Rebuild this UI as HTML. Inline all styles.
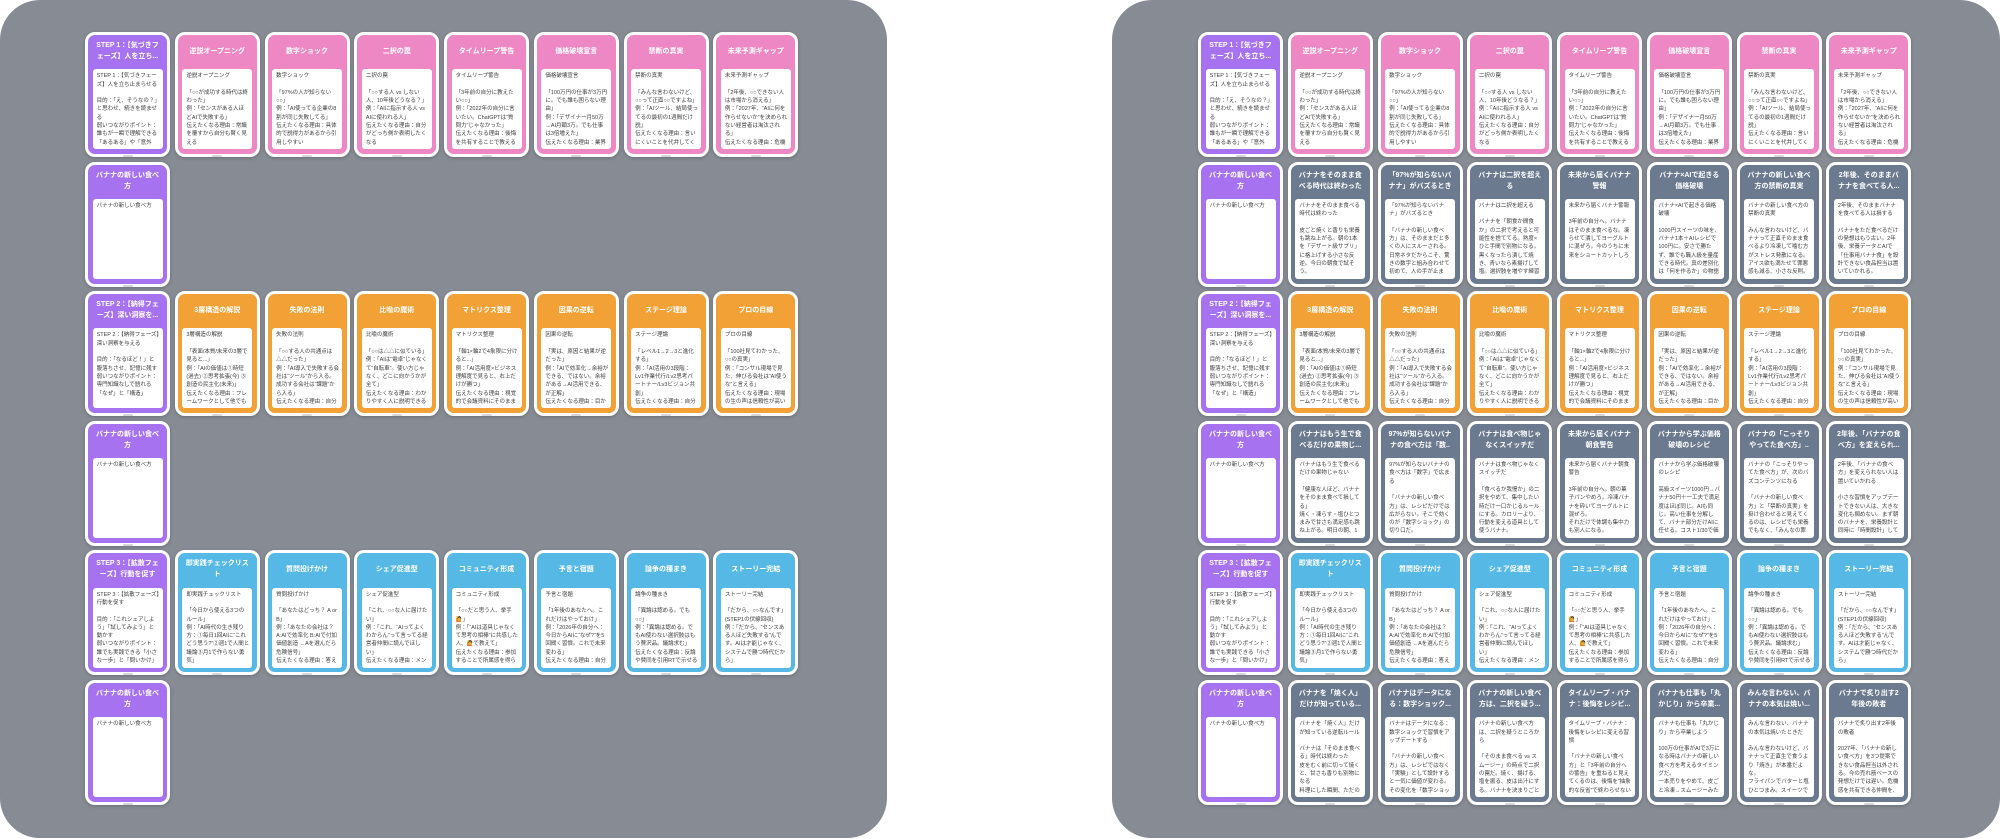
<!DOCTYPE html>
<html><head><meta charset="utf-8">
<style>
html,body{margin:0;padding:0;width:2000px;height:839px;overflow:hidden;background:#fff;}
body{position:relative;font-family:"Liberation Sans","Noto Sans CJK JP",sans-serif;}
.pn{position:absolute;top:0;height:838px;background:#868b94;border-radius:40px;overflow:hidden;}
.g{position:absolute;top:0;left:0;}
.c{position:absolute;width:85px;height:125px;box-sizing:border-box;border:3px solid #fff;border-radius:10px;box-shadow:0 1px 3px rgba(0,0,0,.22);}
.p{background:#a772ef}.k{background:#ed88c5}.o{background:#f1a135}.u{background:#56b8e4}.s{background:#6b7a8f}
.t{position:absolute;left:0;top:0;width:79px;height:32px;display:flex;align-items:center;justify-content:center;text-align:center;color:#fff;font-weight:bold;font-size:7px;line-height:11px;white-space:nowrap;overflow:hidden;}
.b{position:absolute;left:4.6px;top:34.3px;width:70px;height:80px;background:#fff;border-radius:3px;box-sizing:border-box;padding:3px 3px 0 4px;}
.b div{height:74.7px;overflow:hidden;font-size:5.5px;line-height:8.3px;color:#3c3c3c;white-space:pre-wrap;overflow-wrap:anywhere;}
.c i{position:absolute;left:34.5px;bottom:-3px;width:10px;height:2px;background:#d4d6d9;border-radius:1px;}
</style></head><body>

<div class="pn" style="left:0;width:887px">
<div class="g">
<!-- row 0 -->
<div class="c p" style="left:85px;top:32px"><div class="t">STEP 1：【気づきフ<br>ェーズ】人を立ち...</div><div class="b"><div>STEP 1：【気づきフェーズ】人を立ち止まらせる

目的：「え、そうなの？」と思わせ、続きを読ませる
弱いつながりポイント：誰もが一瞬で理解できる「あるある」や「意外性」</div></div><i></i></div>
<div class="c k" style="left:174.75px;top:32px"><div class="t">逆説オープニング</div><div class="b"><div>逆説オープニング

「○○が成功する時代は終わった」
例：「センスがある人ほどAIで失敗する」
伝えたくなる理由：常識を覆すから自分も賢く見える</div></div><i></i></div>
<div class="c k" style="left:264.5px;top:32px"><div class="t">数字ショック</div><div class="b"><div>数字ショック

「97%の人が知らない○○」
例：「AI使ってる企業の8割が同じ失敗してる」
伝えたくなる理由：具体的で説得力があるから引用しやすい</div></div><i></i></div>
<div class="c k" style="left:354.25px;top:32px"><div class="t">二択の罠</div><div class="b"><div>二択の罠

「○○する人 vs しない人、10年後どうなる？」
例：「AIに指示する人 vs AIに使われる人」
伝えたくなる理由：自分がどっち側か表明したくなる</div></div><i></i></div>
<div class="c k" style="left:444px;top:32px"><div class="t">タイムリープ警告</div><div class="b"><div>タイムリープ警告

「3年前の自分に教えたい○○」
例：「2022年の自分に言いたい。ChatGPTは“質問力”じゃなかった」
伝えたくなる理由：後悔を共有することで教える側に立てる</div></div><i></i></div>
<div class="c k" style="left:533.75px;top:32px"><div class="t">価格破壊宣言</div><div class="b"><div>価格破壊宣言

「100万円の仕事が3万円に。でも誰も困らない理由」
例：「デザイナー月50万→AI月額3万。でも仕事は3倍増えた」
伝えたくなる理由：業界の変化を先取りできる</div></div><i></i></div>
<div class="c k" style="left:623.5px;top:32px"><div class="t">禁断の真実</div><div class="b"><div>禁断の真実

「みんな言わないけど、○○って正直○○ですよね」
例：「AIツール、結局使ってるの最初の1週間だけ説」
伝えたくなる理由：言いにくいことを代弁してくれる</div></div><i></i></div>
<div class="c k" style="left:713.25px;top:32px"><div class="t">未来予測ギャップ</div><div class="b"><div>未来予測ギャップ

「2年後、○○できない人は市場から消える」
例：「2027年、“AIに何を作らせないか”を決められない経営者は淘汰される」
伝えたくなる理由：危機感を共有したくなる</div></div><i></i></div>
<!-- row 1 -->
<div class="c p" style="left:85px;top:161.6px"><div class="t">バナナの新しい食べ<br>方</div><div class="b"><div>バナナの新しい食べ方</div></div><i></i></div>
<!-- row 2 -->
<div class="c p" style="left:85px;top:291.2px"><div class="t">STEP 2：【納得フェ<br>ーズ】深い洞察を...</div><div class="b"><div>STEP 2：【納得フェーズ】深い洞察を与える

目的：「なるほど！」と腹落ちさせ、記憶に残す
弱いつながりポイント：専門知識なしで語れる「なぜ」と「構造」</div></div><i></i></div>
<div class="c o" style="left:174.75px;top:291.2px"><div class="t">3層構造の解説</div><div class="b"><div>3層構造の解説

「表面/本質/未来の3層で見ると...」
例：「AIの価値は①時短(過去) ②思考拡張(今) ③創造の民主化(未来)」
伝えたくなる理由：フレームワークとして他でも使える</div></div><i></i></div>
<div class="c o" style="left:264.5px;top:291.2px"><div class="t">失敗の法則</div><div class="b"><div>失敗の法則

「○○する人の共通点は△△だった」
例：「AI導入で失敗する会社は“ツール”から入る。成功する会社は“課題”から入る」
伝えたくなる理由：自分は大丈夫か確かめたくなる</div></div><i></i></div>
<div class="c o" style="left:354.25px;top:291.2px"><div class="t">比喩の魔術</div><div class="b"><div>比喩の魔術

「○○は△△に似ている」
例：「AIは“電卓”じゃなくて“自転車”。使い方じゃなく、どこに向かうかが全て」
伝えたくなる理由：わかりやすく人に説明できる</div></div><i></i></div>
<div class="c o" style="left:444px;top:291.2px"><div class="t">マトリクス整理</div><div class="b"><div>マトリクス整理

「軸1×軸2で4象限に分けると...」
例：「AI活用度×ビジネス理解度で見ると、右上だけが勝つ」
伝えたくなる理由：視覚的で会議資料にそのまま使える</div></div><i></i></div>
<div class="c o" style="left:533.75px;top:291.2px"><div class="t">因果の逆転</div><div class="b"><div>因果の逆転

「実は、原因と結果が逆だった」
例：「AIで効率化→余裕ができる、ではない。余裕がある→AI活用できる、が正解」
伝えたくなる理由：目からウロコの発見</div></div><i></i></div>
<div class="c o" style="left:623.5px;top:291.2px"><div class="t">ステージ理論</div><div class="b"><div>ステージ理論

「レベル1→2→3と進化する」
例：「AI活用の3段階：Lv1作業代行/Lv2思考パートナー/Lv3ビジョン共創」
伝えたくなる理由：自分の現在地がわかる</div></div><i></i></div>
<div class="c o" style="left:713.25px;top:291.2px"><div class="t">プロの目線</div><div class="b"><div>プロの目線

「100社見てわかった、○○の真実」
例：「コンサル現場で見た、伸びる会社は“AI使うな”と言える」
伝えたくなる理由：現場の生の声は信頼性が高い</div></div><i></i></div>
<!-- row 3 -->
<div class="c p" style="left:85px;top:420.8px"><div class="t">バナナの新しい食べ<br>方</div><div class="b"><div>バナナの新しい食べ方</div></div><i></i></div>
<!-- row 4 -->
<div class="c p" style="left:85px;top:550.4px"><div class="t">STEP 3：【拡散フェ<br>ーズ】行動を促す</div><div class="b"><div>STEP 3：【拡散フェーズ】行動を促す

目的：「これシェアしよう」「試してみよう」と動かす
弱いつながりポイント：誰でも実践できる「小さな一歩」と「問いかけ」</div></div><i></i></div>
<div class="c u" style="left:174.75px;top:550.4px"><div class="t">即実践チェックリス<br>ト</div><div class="b"><div>即実践チェックリスト

「今日から使える3つのルール」
例：「AI時代の生き残り方：①毎日1回AIに“これどう思う?”②週1で人間と議論③月1で作らない勇気」</div></div><i></i></div>
<div class="c u" style="left:264.5px;top:550.4px"><div class="t">質問投げかけ</div><div class="b"><div>質問投げかけ

「あなたはどっち？ A or B」
例：「あなたの会社は？ A:AIで効率化 B:AIで付加価値創造 ←Aを選んだら危険信号」
伝えたくなる理由：答えたくなる</div></div><i></i></div>
<div class="c u" style="left:354.25px;top:550.4px"><div class="t">シェア促進型</div><div class="b"><div>シェア促進型

「これ、○○な人に届けたい」
例：「これ、“AIってよくわからん”って言ってる経営者仲間に読んでほしい」
伝えたくなる理由：メンションしたくなる</div></div><i></i></div>
<div class="c u" style="left:444px;top:550.4px"><div class="t">コミュニティ形成</div><div class="b"><div>コミュニティ形成

「○○だと思う人、挙手🙋」
例：「“AIは道具じゃなくて思考の相棒”に共感した人、🙋で教えて」
伝えたくなる理由：参加することで所属感を得られる</div></div><i></i></div>
<div class="c u" style="left:533.75px;top:550.4px"><div class="t">予言と宿題</div><div class="b"><div>予言と宿題

「1年後のあなたへ。これだけはやっておけ」
例：「2026年の自分へ：今日からAIに“なぜ?”を5回聞く習慣。これで未来変わる」
伝えたくなる理由：自分ごとになる</div></div><i></i></div>
<div class="c u" style="left:623.5px;top:550.4px"><div class="t">論争の種まき</div><div class="b"><div>論争の種まき

「異論は認める。でも○○」
例：「異論は認める。でもAI使わない選択肢はもう贅沢品。議論求む」
伝えたくなる理由：反論や賛同を引用RTで示せる</div></div><i></i></div>
<div class="c u" style="left:713.25px;top:550.4px"><div class="t">ストーリー完結</div><div class="b"><div>ストーリー完結

「だから、○○なんです」(STEP1の伏線回収)
例：「だから、“センスある人ほど失敗する”んです。AIは才能じゃなく、システムで勝つ時代だから」</div></div><i></i></div>
<!-- row 5 -->
<div class="c p" style="left:85px;top:680px"><div class="t">バナナの新しい食べ<br>方</div><div class="b"><div>バナナの新しい食べ方</div></div><i></i></div>
</div>
</div>

<div class="pn" style="left:1112px;width:888px">
<div class="g" style="left:1px">
<!-- row 0 -->
<div class="c p" style="left:85px;top:32px"><div class="t">STEP 1：【気づきフ<br>ェーズ】人を立ち...</div><div class="b"><div>STEP 1：【気づきフェーズ】人を立ち止まらせる

目的：「え、そうなの？」と思わせ、続きを読ませる
弱いつながりポイント：誰もが一瞬で理解できる「あるある」や「意外性」</div></div><i></i></div>
<div class="c k" style="left:174.75px;top:32px"><div class="t">逆説オープニング</div><div class="b"><div>逆説オープニング

「○○が成功する時代は終わった」
例：「センスがある人ほどAIで失敗する」
伝えたくなる理由：常識を覆すから自分も賢く見える</div></div><i></i></div>
<div class="c k" style="left:264.5px;top:32px"><div class="t">数字ショック</div><div class="b"><div>数字ショック

「97%の人が知らない○○」
例：「AI使ってる企業の8割が同じ失敗してる」
伝えたくなる理由：具体的で説得力があるから引用しやすい</div></div><i></i></div>
<div class="c k" style="left:354.25px;top:32px"><div class="t">二択の罠</div><div class="b"><div>二択の罠

「○○する人 vs しない人、10年後どうなる？」
例：「AIに指示する人 vs AIに使われる人」
伝えたくなる理由：自分がどっち側か表明したくなる</div></div><i></i></div>
<div class="c k" style="left:444px;top:32px"><div class="t">タイムリープ警告</div><div class="b"><div>タイムリープ警告

「3年前の自分に教えたい○○」
例：「2022年の自分に言いたい。ChatGPTは“質問力”じゃなかった」
伝えたくなる理由：後悔を共有することで教える側に立てる</div></div><i></i></div>
<div class="c k" style="left:533.75px;top:32px"><div class="t">価格破壊宣言</div><div class="b"><div>価格破壊宣言

「100万円の仕事が3万円に。でも誰も困らない理由」
例：「デザイナー月50万→AI月額3万。でも仕事は3倍増えた」
伝えたくなる理由：業界の変化を先取りできる</div></div><i></i></div>
<div class="c k" style="left:623.5px;top:32px"><div class="t">禁断の真実</div><div class="b"><div>禁断の真実

「みんな言わないけど、○○って正直○○ですよね」
例：「AIツール、結局使ってるの最初の1週間だけ説」
伝えたくなる理由：言いにくいことを代弁してくれる</div></div><i></i></div>
<div class="c k" style="left:713.25px;top:32px"><div class="t">未来予測ギャップ</div><div class="b"><div>未来予測ギャップ

「2年後、○○できない人は市場から消える」
例：「2027年、“AIに何を作らせないか”を決められない経営者は淘汰される」
伝えたくなる理由：危機感を共有したくなる</div></div><i></i></div>
<!-- row 1 -->
<div class="c p" style="left:85px;top:161.6px"><div class="t">バナナの新しい食べ<br>方</div><div class="b"><div>バナナの新しい食べ方</div></div><i></i></div>
<div class="c s" style="left:174.75px;top:161.6px"><div class="t">バナナをそのまま食<br>べる時代は終わった</div><div class="b"><div>バナナをそのまま食べる時代は終わった

皮ごと焼くと香りも栄養も跳ね上がる。朝の1本を「デザート級サプリ」に格上げする小さな反逆。今日の朝食で試そう。</div></div><i></i></div>
<div class="c s" style="left:264.5px;top:161.6px"><div class="t">「97%が知らないバ<br>ナナ」がバズるとき</div><div class="b"><div>「97%が知らないバナナ」がバズるとき

「バナナの新しい食べ方」は、そのままだと多くの人にスルーされる。日常ネタだからこそ、驚きの数字と組み合わせて初めて、人の手が止まり、シェアが生まれる。</div></div><i></i></div>
<div class="c s" style="left:354.25px;top:161.6px"><div class="t">バナナは二択を超え<br>る</div><div class="b"><div>バナナは二択を超える

バナナを「朝食か間食か」の二択で考えると可能性を捨ててる。熟度×ひと手間で別物になる。黒くなったら潰して焼き、青いなら素揚げして塩。選択肢を増やす練習だ。</div></div><i></i></div>
<div class="c s" style="left:444px;top:161.6px"><div class="t">未来から届くバナナ<br>警報</div><div class="b"><div>未来から届くバナナ警報

3年前の自分へ。バナナはそのまま食べるな。凍らせて潰してヨーグルトに混ぜろ。今のうちに未来をショートカットしろ</div></div><i></i></div>
<div class="c s" style="left:533.75px;top:161.6px"><div class="t">バナナ×AIで起きる<br>価格破壊</div><div class="b"><div>バナナ×AIで起きる価格破壊

1000円スイーツの味を、バナナ1本＋AIレシピで100円に。安さで勝たず、誰でも職人級を量産できる時代。真の差別化は「何を作るか」の物語だ。</div></div><i></i></div>
<div class="c s" style="left:623.5px;top:161.6px"><div class="t">バナナの新しい食べ<br>方の禁断の真実</div><div class="b"><div>バナナの新しい食べ方の禁断の真実

みんな言わないけど、バナナって正直そのまま食べるより冷凍して噛む方がストレス発散になる。アイス欲も満たせて罪悪感も減る、小さな反則。</div></div><i></i></div>
<div class="c s" style="left:713.25px;top:161.6px"><div class="t">2年後、そのままバ<br>ナナを食べてる人...</div><div class="b"><div>2年後、そのままバナナを食べてる人は損する

バナナをただ食べるだけの発想はもう古い。2年後、栄養データとAIで「仕事用バナナ食」を設計できない食品担当は置いていかれる。</div></div><i></i></div>
<!-- row 2 -->
<div class="c p" style="left:85px;top:291.2px"><div class="t">STEP 2：【納得フェ<br>ーズ】深い洞察を...</div><div class="b"><div>STEP 2：【納得フェーズ】深い洞察を与える

目的：「なるほど！」と腹落ちさせ、記憶に残す
弱いつながりポイント：専門知識なしで語れる「なぜ」と「構造」</div></div><i></i></div>
<div class="c o" style="left:174.75px;top:291.2px"><div class="t">3層構造の解説</div><div class="b"><div>3層構造の解説

「表面/本質/未来の3層で見ると...」
例：「AIの価値は①時短(過去) ②思考拡張(今) ③創造の民主化(未来)」
伝えたくなる理由：フレームワークとして他でも使える</div></div><i></i></div>
<div class="c o" style="left:264.5px;top:291.2px"><div class="t">失敗の法則</div><div class="b"><div>失敗の法則

「○○する人の共通点は△△だった」
例：「AI導入で失敗する会社は“ツール”から入る。成功する会社は“課題”から入る」
伝えたくなる理由：自分は大丈夫か確かめたくなる</div></div><i></i></div>
<div class="c o" style="left:354.25px;top:291.2px"><div class="t">比喩の魔術</div><div class="b"><div>比喩の魔術

「○○は△△に似ている」
例：「AIは“電卓”じゃなくて“自転車”。使い方じゃなく、どこに向かうかが全て」
伝えたくなる理由：わかりやすく人に説明できる</div></div><i></i></div>
<div class="c o" style="left:444px;top:291.2px"><div class="t">マトリクス整理</div><div class="b"><div>マトリクス整理

「軸1×軸2で4象限に分けると...」
例：「AI活用度×ビジネス理解度で見ると、右上だけが勝つ」
伝えたくなる理由：視覚的で会議資料にそのまま使える</div></div><i></i></div>
<div class="c o" style="left:533.75px;top:291.2px"><div class="t">因果の逆転</div><div class="b"><div>因果の逆転

「実は、原因と結果が逆だった」
例：「AIで効率化→余裕ができる、ではない。余裕がある→AI活用できる、が正解」
伝えたくなる理由：目からウロコの発見</div></div><i></i></div>
<div class="c o" style="left:623.5px;top:291.2px"><div class="t">ステージ理論</div><div class="b"><div>ステージ理論

「レベル1→2→3と進化する」
例：「AI活用の3段階：Lv1作業代行/Lv2思考パートナー/Lv3ビジョン共創」
伝えたくなる理由：自分の現在地がわかる</div></div><i></i></div>
<div class="c o" style="left:713.25px;top:291.2px"><div class="t">プロの目線</div><div class="b"><div>プロの目線

「100社見てわかった、○○の真実」
例：「コンサル現場で見た、伸びる会社は“AI使うな”と言える」
伝えたくなる理由：現場の生の声は信頼性が高い</div></div><i></i></div>
<!-- row 3 -->
<div class="c p" style="left:85px;top:420.8px"><div class="t">バナナの新しい食べ<br>方</div><div class="b"><div>バナナの新しい食べ方</div></div><i></i></div>
<div class="c s" style="left:174.75px;top:420.8px"><div class="t">バナナはもう生で食<br>べるだけの果物じ...</div><div class="b"><div>バナナはもう生で食べるだけの果物じゃない

「健康な人ほど、バナナをそのまま食べて損してる」
焼く・凍らす・塩ひとつまみで甘さも満足感も跳ね上がる。明日の朝、1本だけ試してほしい。</div></div><i></i></div>
<div class="c s" style="left:264.5px;top:420.8px"><div class="t">97%が知らないバナ<br>ナの食べ方は「数..</div><div class="b"><div>97%が知らないバナナの食べ方は「数字」で広まる

「バナナの新しい食べ方」は、レシピだけでは広がらない。そこで効くのが「数字ショック」の切り口だ。</div></div><i></i></div>
<div class="c s" style="left:354.25px;top:420.8px"><div class="t">バナナは食べ物じゃ<br>なくスイッチだ</div><div class="b"><div>バナナは食べ物じゃなくスイッチだ

「食べるか我慢か」の二択をやめて、集中したい時だけ一口かじるルールにする。カロリーより、行動を変える道具として使うバナナ。</div></div><i></i></div>
<div class="c s" style="left:444px;top:420.8px"><div class="t">未来から届くバナナ<br>朝食警告</div><div class="b"><div>未来から届くバナナ朝食警告

3年前の自分へ。朝の菓子パンやめろ。冷凍バナナを砕いてヨーグルトに混ぜろ。
それだけで体調も集中力も別人になる。</div></div><i></i></div>
<div class="c s" style="left:533.75px;top:420.8px"><div class="t">バナナから学ぶ価格<br>破壊のレシピ</div><div class="b"><div>バナナから学ぶ価格破壊のレシピ

高級スイーツ1000円→バナナ50円＋一工夫で満足度はほぼ同じ。AIも同じ。高い仕事を分解して、バナナ部分だけAIに任せる。コスト1/30で価値3倍。</div></div><i></i></div>
<div class="c s" style="left:623.5px;top:420.8px"><div class="t">バナナの「こっそり<br>やってた食べ方」..</div><div class="b"><div>バナナの「こっそりやってた食べ方」が、次のバズコンテンツになる

「バナナの新しい食べ方」と「禁断の真実」を掛け合わせると見えてくるのは、レシピでも栄養でもなく、「みんなの罪悪感」だ。</div></div><i></i></div>
<div class="c s" style="left:713.25px;top:420.8px"><div class="t">2年後、「バナナの食<br>べ方」を変えられ...</div><div class="b"><div>2年後、「バナナの食べ方」を変えられない人は置いていかれる

小さな習慣をアップデートできない人は、大きな変化も掴めない。まず朝のバナナを、栄養設計と同時に「時間設計」してみる。</div></div><i></i></div>
<!-- row 4 -->
<div class="c p" style="left:85px;top:550.4px"><div class="t">STEP 3：【拡散フェ<br>ーズ】行動を促す</div><div class="b"><div>STEP 3：【拡散フェーズ】行動を促す

目的：「これシェアしよう」「試してみよう」と動かす
弱いつながりポイント：誰でも実践できる「小さな一歩」と「問いかけ」</div></div><i></i></div>
<div class="c u" style="left:174.75px;top:550.4px"><div class="t">即実践チェックリス<br>ト</div><div class="b"><div>即実践チェックリスト

「今日から使える3つのルール」
例：「AI時代の生き残り方：①毎日1回AIに“これどう思う?”②週1で人間と議論③月1で作らない勇気」</div></div><i></i></div>
<div class="c u" style="left:264.5px;top:550.4px"><div class="t">質問投げかけ</div><div class="b"><div>質問投げかけ

「あなたはどっち？ A or B」
例：「あなたの会社は？ A:AIで効率化 B:AIで付加価値創造 ←Aを選んだら危険信号」
伝えたくなる理由：答えたくなる</div></div><i></i></div>
<div class="c u" style="left:354.25px;top:550.4px"><div class="t">シェア促進型</div><div class="b"><div>シェア促進型

「これ、○○な人に届けたい」
例：「これ、“AIってよくわからん”って言ってる経営者仲間に読んでほしい」
伝えたくなる理由：メンションしたくなる</div></div><i></i></div>
<div class="c u" style="left:444px;top:550.4px"><div class="t">コミュニティ形成</div><div class="b"><div>コミュニティ形成

「○○だと思う人、挙手🙋」
例：「“AIは道具じゃなくて思考の相棒”に共感した人、🙋で教えて」
伝えたくなる理由：参加することで所属感を得られる</div></div><i></i></div>
<div class="c u" style="left:533.75px;top:550.4px"><div class="t">予言と宿題</div><div class="b"><div>予言と宿題

「1年後のあなたへ。これだけはやっておけ」
例：「2026年の自分へ：今日からAIに“なぜ?”を5回聞く習慣。これで未来変わる」
伝えたくなる理由：自分ごとになる</div></div><i></i></div>
<div class="c u" style="left:623.5px;top:550.4px"><div class="t">論争の種まき</div><div class="b"><div>論争の種まき

「異論は認める。でも○○」
例：「異論は認める。でもAI使わない選択肢はもう贅沢品。議論求む」
伝えたくなる理由：反論や賛同を引用RTで示せる</div></div><i></i></div>
<div class="c u" style="left:713.25px;top:550.4px"><div class="t">ストーリー完結</div><div class="b"><div>ストーリー完結

「だから、○○なんです」(STEP1の伏線回収)
例：「だから、“センスある人ほど失敗する”んです。AIは才能じゃなく、システムで勝つ時代だから」</div></div><i></i></div>
<!-- row 5 -->
<div class="c p" style="left:85px;top:680px"><div class="t">バナナの新しい食べ<br>方</div><div class="b"><div>バナナの新しい食べ方</div></div><i></i></div>
<div class="c s" style="left:174.75px;top:680px"><div class="t">バナナを「焼く人」<br>だけが知っている...</div><div class="b"><div>バナナを「焼く人」だけが知っている逆転ルール

バナナは「そのまま食べる」時代は終わった
皮をむく前に切って焼くと、甘さも香りも別物になる
料理にした瞬間、ただの果物が主役になる。</div></div><i></i></div>
<div class="c s" style="left:264.5px;top:680px"><div class="t">バナナはデータにな<br>る：数字ショック...</div><div class="b"><div>バナナはデータになる：数字ショックで習慣をアップデートする

「バナナの新しい食べ方」は、レシピではなく「実験」として設計すると一気に価値が変わる。その変化を「数字ショック」で見せる。</div></div><i></i></div>
<div class="c s" style="left:354.25px;top:680px"><div class="t">バナナの新しい食べ<br>方は、二択を疑う...</div><div class="b"><div>バナナの新しい食べ方は、二択を疑うところから

「そのまま食べる vs スムージー」の時点で二択の罠だ。焼く、揚げる、塩を振る、皮は出汁にする。バナナを決まりごとから解放しよう。</div></div><i></i></div>
<div class="c s" style="left:444px;top:680px"><div class="t">タイムリープ・バナ<br>ナ：後悔をレシピ...</div><div class="b"><div>タイムリープ・バナナ：後悔をレシピに変える習慣

「バナナの新しい食べ方」と「3年前の自分への警告」を重ねると見えてくるのは、後悔を“抽象的な反省”で終わらせない方法だ。</div></div><i></i></div>
<div class="c s" style="left:533.75px;top:680px"><div class="t">バナナも仕事も「丸<br>かじり」から卒業...</div><div class="b"><div>バナナも仕事も「丸かじり」から卒業しよう

100万の仕事がAIで3万になる時はバナナの新しい食べ方を考えるタイミングだ。
一本売りをやめて、皮ごと冷凍→スムージーみたいに分解する。</div></div><i></i></div>
<div class="c s" style="left:623.5px;top:680px"><div class="t">みんな言わない、バ<br>ナナの本気は焼い...</div><div class="b"><div>みんな言わない、バナナの本気は焼いたときだ

みんな言わないけど、バナナって正直生で食うより「焼き」が本番だよな。
フライパンでバターと塩ひとつまみ。スイーツで払う500円が浮く。</div></div><i></i></div>
<div class="c s" style="left:713.25px;top:680px"><div class="t">バナナで炙り出す2<br>年後の敗者</div><div class="b"><div>バナナで炙り出す2年後の敗者

2027年、「バナナの新しい食べ方」を3つ提案できない食品担当は外される。今の売れ筋ベースの発想だけでは遅い。危機感を共有できる仲間を、今から集めよう。</div></div><i></i></div>
</div>
</div>

</body></html>
